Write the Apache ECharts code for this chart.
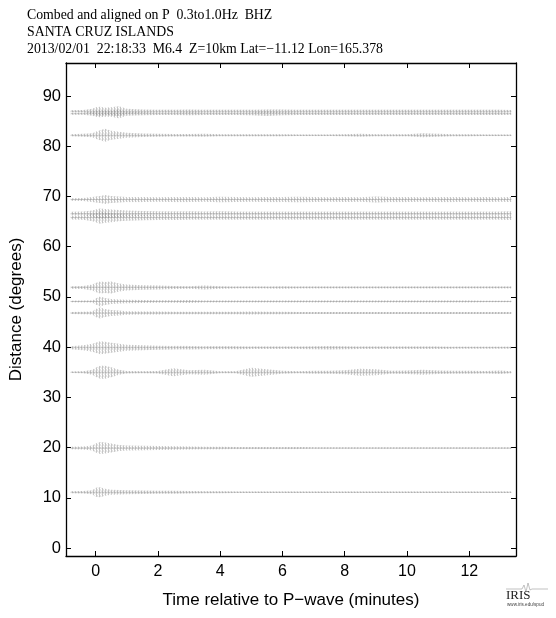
<!DOCTYPE html>
<html><head><meta charset="utf-8">
<script src="https://cdn.jsdelivr.net/npm/echarts@6/dist/echarts.min.js"></script>
<style>html,body{margin:0;padding:0;background:#fff}#c{width:556px;height:618px}</style>
</head><body><div id="c"></div><script>
// ---- text ----
const titleLines = [
  'Combed and aligned on P  0.3to1.0Hz  BHZ',
  'SANTA CRUZ ISLANDS',
  '2013/02/01  22:18:33  M6.4  Z=10km Lat=\u221211.12 Lon=165.378'
];
const xName = 'Time relative to P\u2212wave (minutes)';
const yName = 'Distance (degrees)';
const xTicks = [0, 2, 4, 6, 8, 10, 12];
const yTicks = [0, 10, 20, 30, 40, 50, 60, 70, 80, 90];

// ---- envelope sample times (minutes rel. to P) ----
const times = [-0.8,-0.4,-0.1,0,0.15,0.3,0.5,0.75,1,1.5,2,2.5,3,3.5,4,4.5,5,5.5,6,6.5,7,7.5,8,8.5,9,9.5,10,10.5,11,11.5,12,12.5,13,13.35];

// ---- trace distances (degrees) ----
const distances = [87.0, 86.5, 82.2, 69.4, 66.6, 65.8, 51.9, 49.1, 46.8, 39.9, 35.0, 19.9, 11.1];

// ---- envelope half-amplitudes (degrees) ----
const amp870 = [0.2,0.25,0.5,0.8,0.9,0.7,0.8,1.0,0.5,0.35,0.3,0.3,0.35,0.3,0.3,0.3,0.3,0.35,0.35,0.3,0.3,0.3,0.3,0.3,0.3,0.3,0.3,0.3,0.3,0.3,0.3,0.3,0.3,0.25];
const amp865 = [0.2,0.2,0.4,0.6,0.7,0.6,0.6,0.9,0.4,0.3,0.25,0.25,0.3,0.25,0.25,0.25,0.3,0.45,0.3,0.25,0.25,0.25,0.25,0.25,0.25,0.25,0.25,0.25,0.25,0.25,0.25,0.25,0.25,0.2];
const amp822 = [0.2,0.3,0.4,0.7,1.0,1.3,0.9,0.7,0.5,0.35,0.3,0.25,0.25,0.3,0.2,0.2,0.2,0.2,0.2,0.15,0.15,0.15,0.2,0.3,0.2,0.2,0.2,0.4,0.3,0.2,0.2,0.15,0.15,0.15];
const amp694 = [0.25,0.3,0.5,0.6,0.7,0.9,0.7,0.6,0.5,0.5,0.45,0.5,0.5,0.45,0.55,0.5,0.45,0.5,0.5,0.55,0.5,0.45,0.5,0.45,0.6,0.5,0.5,0.45,0.5,0.5,0.45,0.5,0.45,0.5];
const amp666 = [0.35,0.4,0.6,0.8,1.0,0.9,0.8,0.7,0.6,0.5,0.45,0.45,0.45,0.4,0.45,0.4,0.4,0.4,0.4,0.4,0.4,0.4,0.4,0.4,0.4,0.4,0.4,0.4,0.4,0.4,0.4,0.4,0.4,0.45];
const amp658 = [0.35,0.4,0.7,0.9,1.2,1.0,0.9,0.7,0.6,0.5,0.45,0.45,0.4,0.4,0.4,0.4,0.4,0.4,0.4,0.4,0.4,0.4,0.4,0.4,0.4,0.4,0.4,0.4,0.4,0.4,0.4,0.4,0.4,0.45];
const amp519 = [0.25,0.3,0.6,0.9,1.2,1.1,1.2,0.8,0.6,0.45,0.4,0.3,0.25,0.4,0.25,0.2,0.2,0.2,0.25,0.2,0.2,0.2,0.2,0.2,0.2,0.2,0.2,0.2,0.2,0.2,0.2,0.2,0.2,0.2];
const amp491 = [0.15,0.2,0.2,0.6,1.0,0.7,0.5,0.4,0.35,0.3,0.25,0.25,0.3,0.2,0.2,0.2,0.2,0.2,0.2,0.2,0.2,0.2,0.2,0.2,0.2,0.2,0.2,0.2,0.2,0.2,0.2,0.15,0.15,0.15];
const amp468 = [0.2,0.25,0.3,0.8,1.1,0.8,0.6,0.5,0.35,0.3,0.3,0.25,0.25,0.25,0.25,0.25,0.3,0.25,0.25,0.2,0.2,0.2,0.2,0.2,0.2,0.2,0.2,0.2,0.2,0.2,0.2,0.2,0.2,0.2];
const amp399 = [0.3,0.5,0.8,1.0,1.3,1.2,1.0,0.8,0.6,0.5,0.4,0.35,0.35,0.3,0.3,0.3,0.25,0.25,0.25,0.25,0.3,0.35,0.3,0.25,0.25,0.25,0.25,0.25,0.25,0.2,0.2,0.2,0.2,0.2];
const amp350 = [0.15,0.2,0.5,0.9,1.3,1.3,1.0,0.5,0.25,0.2,0.25,0.8,0.4,0.5,0.2,0.2,0.9,0.6,0.3,0.2,0.3,0.3,0.4,0.7,0.6,0.3,0.35,0.5,0.35,0.3,0.3,0.25,0.35,0.2];
const amp199 = [0.25,0.3,0.5,0.9,1.2,1.1,0.9,0.6,0.5,0.45,0.4,0.35,0.3,0.25,0.25,0.2,0.2,0.2,0.2,0.2,0.15,0.15,0.15,0.15,0.15,0.15,0.15,0.15,0.15,0.15,0.15,0.15,0.15,0.15];
const amp111 = [0.2,0.25,0.4,0.9,1.0,0.7,0.5,0.45,0.4,0.35,0.3,0.3,0.25,0.2,0.2,0.15,0.15,0.15,0.15,0.15,0.15,0.15,0.15,0.15,0.15,0.15,0.15,0.15,0.15,0.15,0.15,0.15,0.15,0.15];
const amplitudes = [amp870, amp865, amp822, amp694, amp666, amp658, amp519, amp491, amp468, amp399, amp350, amp199, amp111];

// ---- hatch texture (cosmetic, mimics oscillating trace) ----
const hatch = document.createElement('canvas');
hatch.width = 3; hatch.height = 3;
(function () {
  const g = hatch.getContext('2d');
  g.fillStyle = 'rgba(140,140,140,0.5)';
  g.fillRect(0, 0, 1, 3);
  g.fillStyle = 'rgba(170,170,170,0.3)';
  g.fillRect(1, 0, 1, 2);
  g.fillStyle = 'rgba(200,200,200,0.25)';
  g.fillRect(2, 1, 1, 2);
})();

// ---- build series ----
function segs(dist, amp) {
  const out = [];
  for (let i = 0; i < times.length - 1; i++) out.push([times[i], times[i + 1], dist, amp[i], amp[i + 1]]);
  return out;
}
function renderItem(params, api) {
  const t0 = api.value(0), t1 = api.value(1), d = api.value(2), a0 = api.value(3), a1 = api.value(4);
  const p = [api.coord([t0, d + a0]), api.coord([t1, d + a1]), api.coord([t1, d - a1]), api.coord([t0, d - a0])];
  const c0 = api.coord([t0, d]), c1 = api.coord([t1, d]);
  return {
    type: 'group',
    children: [
      { type: 'polygon', shape: { points: p }, style: { fill: { image: hatch, repeat: 'repeat' }, stroke: null } },
      { type: 'line', shape: { x1: c0[0], y1: c0[1], x2: c1[0], y2: c1[1] }, style: { stroke: 'rgba(130,130,130,0.65)', lineWidth: 0.6 } }
    ]
  };
}
const series = distances.map((d, k) => ({
  type: 'custom', renderItem, clip: true, silent: true,
  dimensions: ['t0', 't1', 'd', 'a0', 'a1'],
  encode: { x: [0, 1], y: 2 },
  data: segs(d, amplitudes[k])
}));

const axisCommon = {
  type: 'value', splitLine: { show: false },
  axisLine: { show: true, onZero: false, lineStyle: { color: '#000', width: 1.3 } },
};
const font = 'Liberation Sans, Arial, Helvetica, sans-serif';
const chart = echarts.init(document.getElementById('c'), null, { renderer: 'canvas' });
chart.setOption({
  animation: false,
  backgroundColor: '#fff',
  grid: { left: 66, right: 40, top: 63, bottom: 62, containLabel: false },
  title: titleLines.map((t, i) => ({
    text: t, left: 27, top: 8 + i * 17.3, padding: 0,
    textStyle: { fontFamily: 'Liberation Serif, Times New Roman, serif', fontSize: 13.8, fontWeight: 'normal', color: '#000' }
  })),
  xAxis: [
    Object.assign({}, axisCommon, {
      min: -0.95, max: 13.5, position: 'bottom',
      axisTick: { show: true, inside: true, length: 5, customValues: xTicks, lineStyle: { color: '#000' } },
      axisLabel: { customValues: xTicks, fontSize: 16, color: '#000', fontFamily: font, margin: 8 },
      name: xName, nameLocation: 'middle', nameGap: 36,
      nameTextStyle: { fontSize: 17, color: '#000', fontFamily: font }
    }),
    Object.assign({}, axisCommon, {
      min: -0.95, max: 13.5, position: 'top',
      axisTick: { show: true, inside: true, length: 5, customValues: xTicks, lineStyle: { color: '#000' } },
      axisLabel: { show: false }
    })
  ],
  yAxis: [
    Object.assign({}, axisCommon, {
      min: -1.6, max: 96.6, position: 'left',
      axisTick: { show: true, inside: true, length: 5, customValues: yTicks, lineStyle: { color: '#000' } },
      axisLabel: { customValues: yTicks, fontSize: 16.5, color: '#000', fontFamily: font, margin: 5 },
      name: yName, nameLocation: 'middle', nameGap: 41,
      nameTextStyle: { fontSize: 17, color: '#000', fontFamily: font }
    }),
    Object.assign({}, axisCommon, {
      min: -1.6, max: 96.6, position: 'right',
      axisTick: { show: true, inside: true, length: 5, customValues: yTicks, lineStyle: { color: '#000' } },
      axisLabel: { show: false }
    })
  ],
  graphic: [
    { type: 'polyline', shape: { points: [[506, 589], [522, 589], [524, 585], [526, 592], [528, 583], [530, 590], [532, 589], [548, 589]] }, style: { stroke: '#999', lineWidth: 0.6, fill: null } },
    { type: 'text', left: 506, top: 589, style: { text: 'IRIS', font: '13px "Liberation Serif", serif', fill: '#222' } },
    { type: 'text', left: 507, top: 602, style: { text: 'www.iris.edu/spud', font: '4.6px "Liberation Sans", sans-serif', fill: '#444' } }
  ],
  series
});
</script></body></html>
